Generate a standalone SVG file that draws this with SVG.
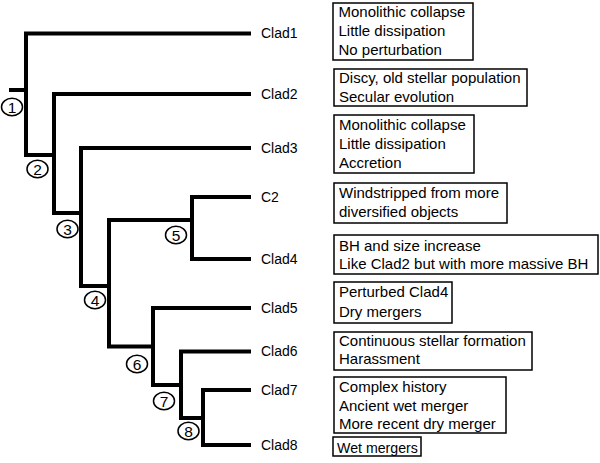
<svg xmlns="http://www.w3.org/2000/svg" width="600" height="463" viewBox="0 0 600 463">
<style>
.br{fill:none;stroke:#000;stroke-width:4;stroke-linejoin:miter;stroke-linecap:butt}
.lab{font-family:"Liberation Sans",Arial,sans-serif;font-size:14px;fill:#000}
.box{fill:#fff;stroke:#000;stroke-width:1.5}
.bt{font-family:"Liberation Sans",Arial,sans-serif;font-size:15px;fill:#000}
.nc{fill:#fff;stroke:#000;stroke-width:1.5}
.nt{font-family:"Liberation Sans",Arial,sans-serif;font-size:15.5px;fill:#000;text-anchor:middle}
</style>
<rect width="600" height="463" fill="#fff"/>
<g id="connectors">
<path class="br" d="M9,90 H26"/>
<path class="br" d="M251,33.5 H26 V155 H54"/>
<path class="br" d="M251,94 H54 V213 H81"/>
<path class="br" d="M251,148 H81 V286 H109"/>
<path class="br" d="M192,220 H109 V346.5 H153"/>
<path class="br" d="M251,197 H192 V259 H251"/>
<path class="br" d="M251,308 H153 V385 H181"/>
<path class="br" d="M251,351.5 H181 V418 H203"/>
<path class="br" d="M251,390 H203 V445 H251"/>
</g>
<g id="nodes">
<g id="n1"><ellipse class="nc" cx="12" cy="107" rx="10.5" ry="8.7"/><text class="nt" x="12" y="112.5">1</text></g>
<g id="n2"><ellipse class="nc" cx="37.5" cy="169" rx="10.5" ry="8.7"/><text class="nt" x="37.5" y="174.5">2</text></g>
<g id="n3"><ellipse class="nc" cx="67.5" cy="229" rx="10.5" ry="8.7"/><text class="nt" x="67.5" y="234.5">3</text></g>
<g id="n4"><ellipse class="nc" cx="95" cy="300" rx="10.5" ry="8.7"/><text class="nt" x="95" y="305.5">4</text></g>
<g id="n5"><ellipse class="nc" cx="176" cy="235" rx="10.5" ry="8.7"/><text class="nt" x="176" y="240.5">5</text></g>
<g id="n6"><ellipse class="nc" cx="137" cy="364" rx="10.5" ry="8.7"/><text class="nt" x="137" y="369.5">6</text></g>
<g id="n7"><ellipse class="nc" cx="164" cy="401" rx="10.5" ry="8.7"/><text class="nt" x="164" y="406.5">7</text></g>
<g id="n8"><ellipse class="nc" cx="188.5" cy="431" rx="10.5" ry="8.7"/><text class="nt" x="188.5" y="436.5">8</text></g>
<g id="clad1"><text class="lab" x="261" y="38">Clad1</text>
<rect class="box" x="333" y="3" width="140" height="57"/>
<text class="bt" x="338.5" y="16.7">Monolithic collapse</text>
<text class="bt" x="338.5" y="36">Little dissipation</text>
<text class="bt" x="338.5" y="55">No perturbation</text></g>
<g id="clad2"><text class="lab" x="261" y="98.5">Clad2</text>
<rect class="box" x="334" y="69" width="193" height="37"/>
<text class="bt" x="339" y="83.3">Discy, old stellar population</text>
<text class="bt" x="339" y="101.7">Secular evolution</text></g>
<g id="clad3"><text class="lab" x="261" y="152.5">Clad3</text>
<rect class="box" x="334" y="115" width="140" height="58"/>
<text class="bt" x="339" y="130">Monolithic collapse</text>
<text class="bt" x="339" y="149.3">Little dissipation</text>
<text class="bt" x="339" y="168.3">Accretion</text></g>
<g id="c2"><text class="lab" x="261" y="201.5">C2</text>
<rect class="box" x="334" y="183" width="173" height="40"/>
<text class="bt" x="339" y="198.3">Windstripped from more</text>
<text class="bt" x="339" y="216.7">diversified objects</text></g>
<g id="clad4"><text class="lab" x="261" y="263.5">Clad4</text>
<rect class="box" x="334" y="235" width="264" height="39"/>
<text class="bt" x="339" y="250.7">BH and size increase</text>
<text class="bt" x="339" y="269.3">Like Clad2 but with more massive BH</text></g>
<g id="clad5"><text class="lab" x="261" y="312.5">Clad5</text>
<rect class="box" x="334" y="282" width="118" height="41"/>
<text class="bt" x="339" y="297.3">Perturbed Clad4</text>
<text class="bt" x="339" y="317.3">Dry mergers</text></g>
<g id="clad6"><text class="lab" x="261" y="356">Clad6</text>
<rect class="box" x="334" y="332" width="198" height="38"/>
<text class="bt" x="339" y="346">Continuous stellar formation</text>
<text class="bt" x="339" y="364.3">Harassment</text></g>
<g id="clad7"><text class="lab" x="261" y="394.5">Clad7</text>
<rect class="box" x="334" y="377" width="172" height="56"/>
<text class="bt" x="339" y="391.7">Complex history</text>
<text class="bt" x="339" y="410.7">Ancient wet merger</text>
<text class="bt" x="339" y="429.3">More recent dry merger</text></g>
<g id="clad8"><text class="lab" x="261" y="449.5">Clad8</text>
<rect class="box" x="333" y="437" width="88" height="19"/>
<text class="bt" x="337" y="453" style="font-size:14.2px">Wet mergers</text></g>
</g>
</svg>
